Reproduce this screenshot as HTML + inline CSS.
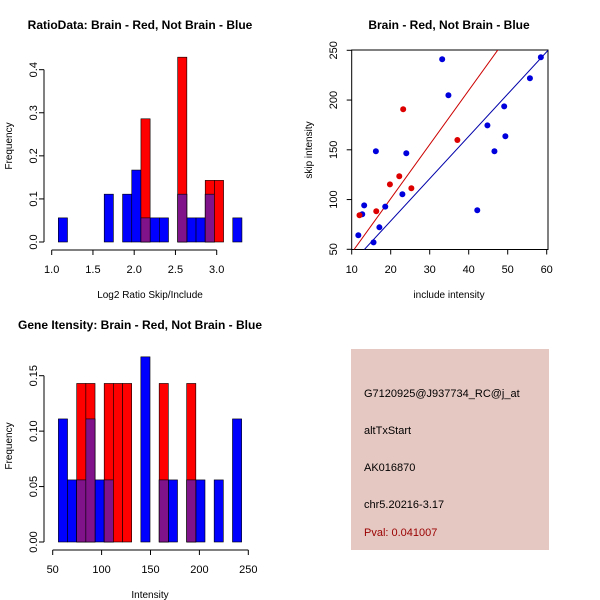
<!DOCTYPE html>
<html><head><meta charset="utf-8"><style>
body{margin:0;background:#fff}
svg{display:block;font-family:"Liberation Sans",sans-serif}
</style></head><body>
<svg id="s" width="600" height="600" viewBox="0 0 600 600" xmlns="http://www.w3.org/2000/svg">
<rect width="600" height="600" fill="#fff"/>
<g id="p1"></g>
<g id="p2"></g>
<g id="p3"></g>
<g>
<rect x="351" y="349" width="198" height="201" fill="#e6c8c2"/>
<text x="364" y="397" font-size="11" fill="#000">G7120925@J937734_RC@j_at</text>
<text x="364" y="434" font-size="11" fill="#000">altTxStart</text>
<text x="364" y="471" font-size="11" fill="#000">AK016870</text>
<text x="364" y="508" font-size="11" fill="#000">chr5.20216-3.17</text>
<text x="364" y="536" font-size="11" fill="#990000">Pval: 0.041007</text>
</g>
</svg>
<script>
// Ratio histogram data
const ratioStart = 1.08, ratioWidth = 0.1113;
const ratioBlue = [0.056,0,0,0,0,0.111,0,0.111,0.167,0.056,0.056,0.056,0,0.111,0.056,0.056,0.111,0,0,0.056];
const ratioRed  = [0,0,0,0,0,0,0,0,0,0.286,0,0,0,0.429,0,0,0.143,0.143,0,0];
const ratioXTicks = [1.0,1.5,2.0,2.5,3.0];
const ratioXLabels = ["1.0","1.5","2.0","2.5","3.0"];
const ratioYTicks = [0,0.1,0.2,0.3,0.4];
const ratioYLabels = ["0.0","0.1","0.2","0.3","0.4"];
// Intensity histogram data
const intStart = 55.8, intWidth = 9.37;
const intBlue = [0.111,0.056,0.056,0.111,0.056,0.056,0,0,0,0.167,0,0.056,0.056,0,0.056,0.056,0,0.056,0,0.111];
const intRed  = [0,0,0.143,0.143,0,0.143,0.143,0.143,0,0,0,0.143,0,0,0.143,0,0,0,0,0];
const intXTicks = [50,100,150,200,250];
const intXLabels = ["50","100","150","200","250"];
const intYTicks = [0,0.05,0.10,0.15];
const intYLabels = ["0.00","0.05","0.10","0.15"];
// Scatter data
const blueInclude = [33.2,34.8,58.5,55.7,49.1,44.8,49.4,46.6,16.2,24.0,23.0,42.2,13.2,12.7,18.6,17.1,11.7,15.6];
const blueSkip    = [241,204.8,243,221.9,193.7,174.6,163.6,148.5,148.5,146.5,105.3,89.2,94.2,85.2,92.9,72.1,64.1,57.0];
const redInclude  = [23.2,37.1,22.2,19.8,25.3,16.3,12.0];
const redSkip     = [190.7,159.9,123.4,115.3,111.3,88.2,84.2];
const redFit  = [-7.9, 5.44];
const blueFit = [-6.5, 4.25];
const scXTicks = [10,20,30,40,50,60];
const scXLabels = ["10","20","30","40","50","60"];
const scYTicks = [50,100,150,200,250];
const scYLabels = ["50","100","150","200","250"];

const NS="http://www.w3.org/2000/svg";
function mk(parent,tag,attrs){const e=document.createElementNS(NS,tag);for(const k in attrs)e.setAttribute(k,attrs[k]);parent.appendChild(e);return e;}
function txt(parent,x,y,s,size,anchor,rot,weight){const t=mk(parent,'text',{x:x,y:y,'font-size':size,'text-anchor':anchor||'middle'});if(rot)t.setAttribute('transform','rotate(-90 '+x+' '+y+')');if(weight)t.setAttribute('font-weight',weight);t.textContent=s;return t;}

function axes(g,xs,ys,xT,xL,yT,yL,xAxisY,yAxisX,xLblY,yLblX){
  const xmin=xs(xT[0]),xmax=xs(xT[xT.length-1]);
  let l=mk(g,'line',{x1:xmin,y1:xAxisY,x2:xmax,y2:xAxisY,stroke:'#000'});
  
  xT.forEach((v,i)=>{mk(g,'line',{x1:xs(v),y1:xAxisY,x2:xs(v),y2:xAxisY+5,stroke:'#000'});
    const t=txt(g,xs(v),xLblY,xL[i],11);});
  const ymin=ys(yT[0]),ymax=ys(yT[yT.length-1]);
  l=mk(g,'line',{x1:yAxisX,y1:ymin,x2:yAxisX,y2:ymax,stroke:'#000'});
  
  yT.forEach((v,i)=>{mk(g,'line',{x1:yAxisX-5,y1:ys(v),x2:yAxisX,y2:ys(v),stroke:'#000'});
    const t=txt(g,yLblX,ys(v),yL[i],11,'middle',true);});
}

function hist(g,start,w,blue,red,xs,ys){
  const y0=ys(0);
  blue.forEach((v,i)=>{if(v<=0)return;const a=xs(start+i*w),b=xs(start+(i+1)*w);
    const r=mk(g,'rect',{x:a,y:ys(v),width:b-a,height:y0-ys(v),fill:'#0000ff',stroke:'#000','stroke-width':0.6});
    });
  red.forEach((v,i)=>{if(v<=0)return;const a=xs(start+i*w),b=xs(start+(i+1)*w);
    const r=mk(g,'rect',{x:a,y:ys(v),width:b-a,height:y0-ys(v),fill:'#ff0000',stroke:'#000','stroke-width':0.6});
    
    const m=Math.min(v,blue[i]);
    if(m>0){const p=mk(g,'rect',{x:a,y:ys(m),width:b-a,height:y0-ys(m),fill:'#80128a',stroke:'#000','stroke-width':0.6});
      }
  });
}

// Panel 1
(function(){const g=document.getElementById('p1');
  const xs=v=>51.7+(v-1)*82.5, ys=v=>242-v*430.8;
  hist(g,ratioStart,ratioWidth,ratioBlue,ratioRed,xs,ys);
  axes(g,xs,ys,ratioXTicks,ratioXLabels,ratioYTicks,ratioYLabels,250,44,273,37);
  let t=txt(g,140,29,'RatioData: Brain - Red, Not Brain - Blue',12,'middle',false,'bold');
  t=txt(g,150,298,'Log2 Ratio Skip/Include',10);
  t=txt(g,12,146,'Frequency',10,'middle',true);
})();
// Panel 3
(function(){const g=document.getElementById('p3');
  const xs=v=>52.7+(v-50)*0.978, ys=v=>542-v*1108.7;
  hist(g,intStart,intWidth,intBlue,intRed,xs,ys);
  axes(g,xs,ys,intXTicks,intXLabels,intYTicks,intYLabels,550,44,573,37);
  let t=txt(g,140,329,'Gene Itensity: Brain - Red, Not Brain - Blue',12,'middle',false,'bold');
  t=txt(g,150,598,'Intensity',10);
  t=txt(g,12,446,'Frequency',10,'middle',true);
})();
// Panel 2
(function(){const g=document.getElementById('p2');
  const xs=v=>351.7+(v-10)*3.9, ys=v=>249.3-(v-50)*0.995;
  const L=351.7,R=548,T=50,B=249.5;
  mk(g,'defs',{}).innerHTML='<clipPath id="cp"><rect x="'+L+'" y="'+T+'" width="'+(R-L)+'" height="'+(B-T)+'"/></clipPath>';
  const fr=mk(g,'rect',{x:L,y:T,width:R-L,height:B-T,fill:'none',stroke:'#000'});
  
  const x1=5,x2=65;
  let l=mk(g,'line',{x1:xs(x1),y1:ys(redFit[0]+redFit[1]*x1),x2:xs(x2),y2:ys(redFit[0]+redFit[1]*x2),stroke:'#cc0000','clip-path':'url(#cp)'});
  
  l=mk(g,'line',{x1:xs(x1),y1:ys(blueFit[0]+blueFit[1]*x1),x2:xs(x2),y2:ys(blueFit[0]+blueFit[1]*x2),stroke:'#0000aa','clip-path':'url(#cp)'});
  
  blueInclude.forEach((v,i)=>{const c=mk(g,'circle',{cx:xs(v),cy:ys(blueSkip[i]),r:3,fill:'#0000dd'});
    });
  redInclude.forEach((v,i)=>{const c=mk(g,'circle',{cx:xs(v),cy:ys(redSkip[i]),r:3,fill:'#dd0000'});
    });
  scXTicks.forEach((v,i)=>{mk(g,'line',{x1:xs(v),y1:B,x2:xs(v),y2:B+5,stroke:'#000'});
    const t=txt(g,xs(v),273,scXLabels[i],11);});
  scYTicks.forEach((v,i)=>{mk(g,'line',{x1:L-5,y1:ys(v),x2:L,y2:ys(v),stroke:'#000'});
    const t=txt(g,337,ys(v),scYLabels[i],11,'middle',true);});
  let t=txt(g,449,29,'Brain - Red, Not Brain - Blue',12,'middle',false,'bold');
  t=txt(g,449,298,'include intensity',10);
  t=txt(g,312,150,'skip intensity',10,'middle',true);
})();
</script>
</body></html>
